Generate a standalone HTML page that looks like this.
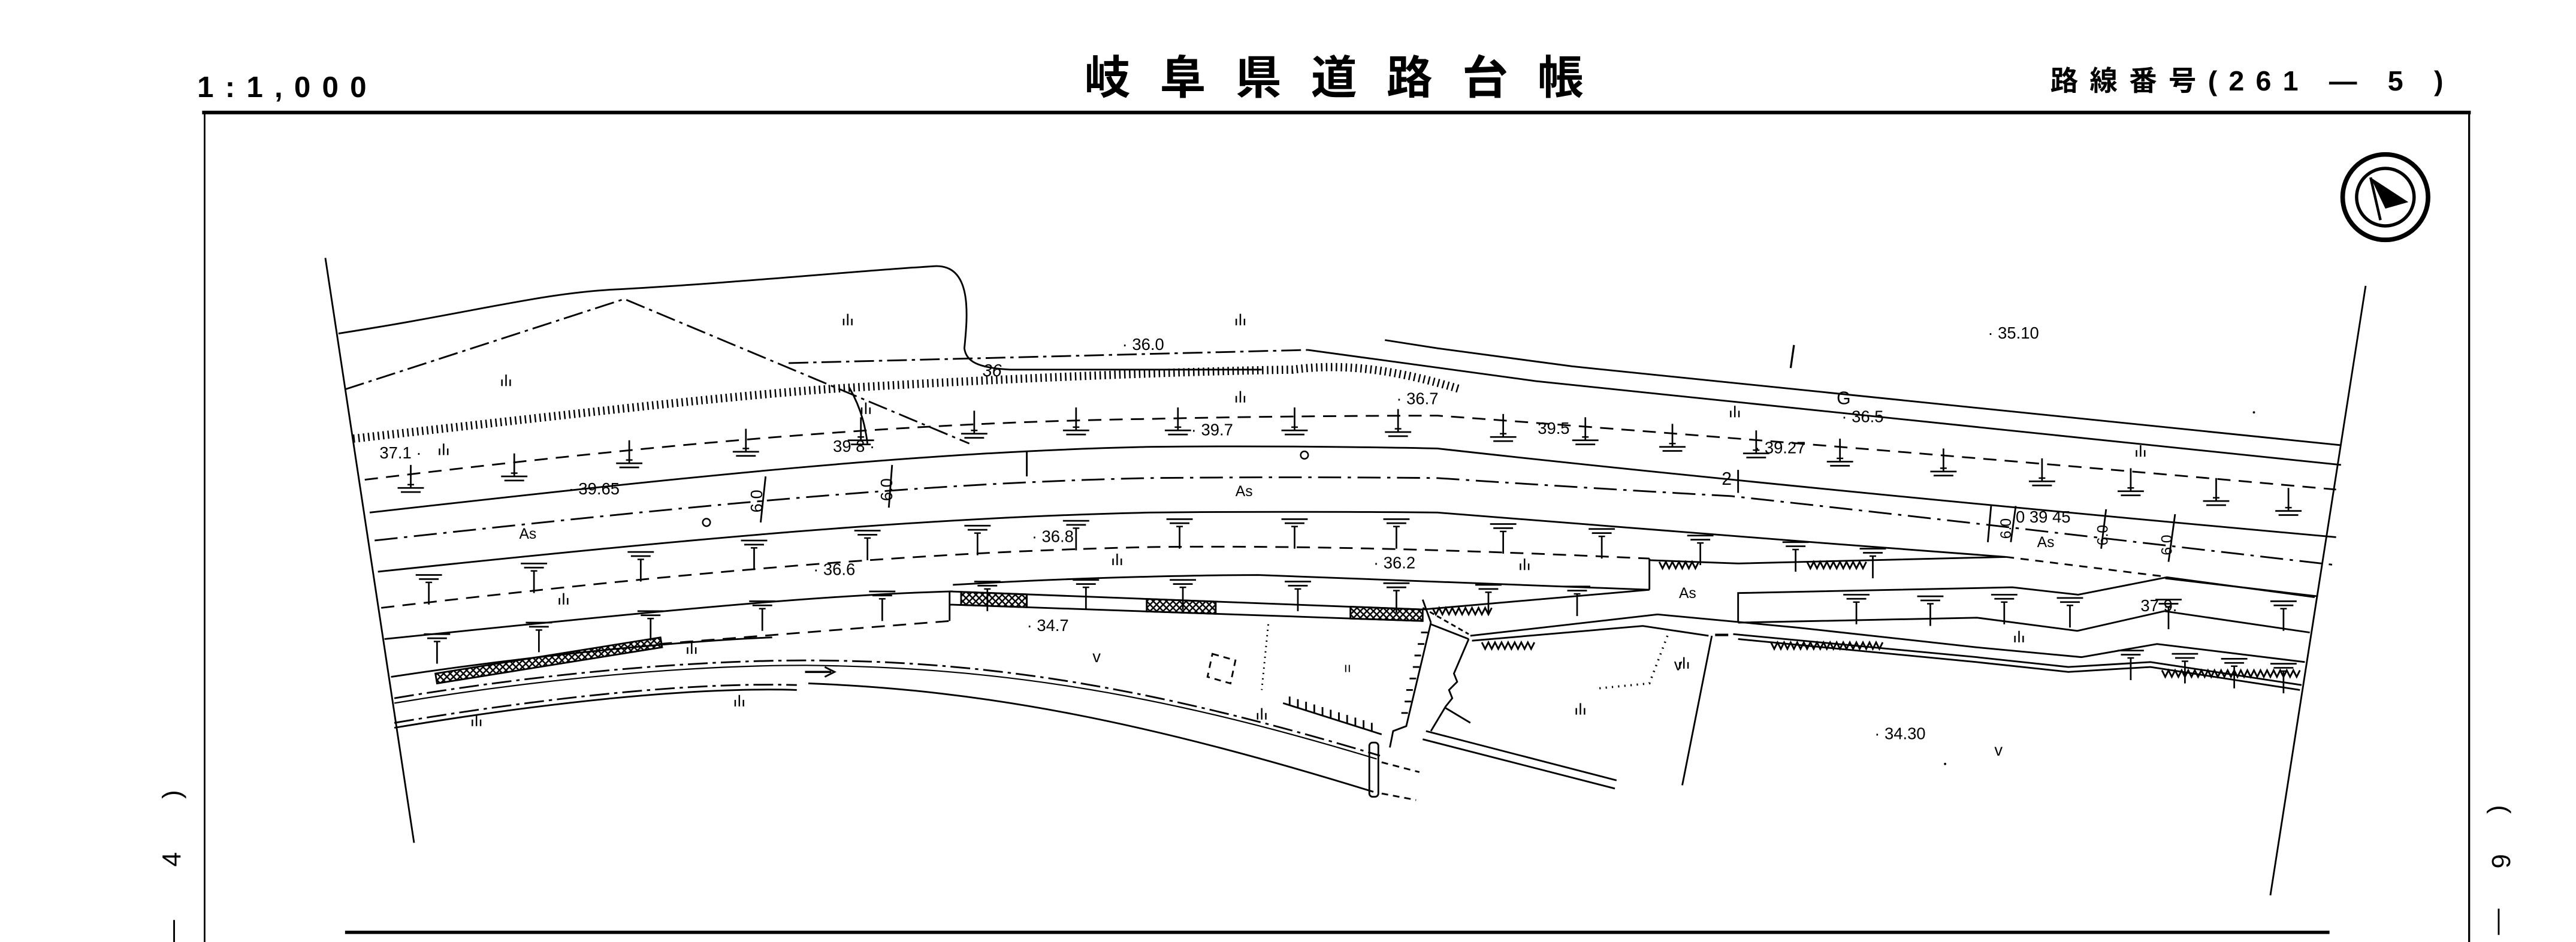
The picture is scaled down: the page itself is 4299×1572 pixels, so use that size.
<!DOCTYPE html>
<html><head><meta charset="utf-8"><style>
html,body{margin:0;padding:0;background:#fff;}
svg{display:block;}
text{font-family:"Liberation Sans","Noto Sans CJK JP",sans-serif;fill:#000;}
</style></head><body>
<svg width="4299" height="1572" viewBox="0 0 1568 573.4" xmlns="http://www.w3.org/2000/svg">
<defs>
<g id="up"><line x1="0" y1="-14" x2="0" y2="0" stroke="#000" stroke-width="1"/><line x1="-2" y1="-2" x2="2" y2="-2" stroke="#000" stroke-width="0.9"/><line x1="-8" y1="0" x2="8" y2="0" stroke="#000" stroke-width="1"/><line x1="-6" y1="2.5" x2="6" y2="2.5" stroke="#000" stroke-width="1"/></g>
<g id="tt"><line x1="-8" y1="0" x2="8" y2="0" stroke="#000" stroke-width="1"/><line x1="-6" y1="2.5" x2="6" y2="2.5" stroke="#000" stroke-width="1"/><line x1="-2" y1="4.5" x2="2" y2="4.5" stroke="#000" stroke-width="0.9"/><line x1="0" y1="4.5" x2="0" y2="18" stroke="#000" stroke-width="1"/></g>
<g id="gr" stroke="#000" stroke-width="0.9"><line x1="-2.5" y1="-2" x2="-2.5" y2="2"/><line x1="0" y1="-5" x2="0" y2="2"/><line x1="2.5" y1="-2" x2="2.5" y2="2"/></g>
<pattern id="xh" width="4" height="4" patternUnits="userSpaceOnUse"><path d="M0,0 L4,4 M4,0 L0,4" stroke="#000" stroke-width="0.9"/></pattern>
</defs>

<!-- header -->
<text x="120" y="59" font-size="18" font-weight="bold" letter-spacing="7">1:1,000</text>
<text x="660" y="57" font-size="28" font-weight="bold" letter-spacing="18" font-family="'Noto Sans CJK JP',sans-serif">岐阜県道路台帳</text>
<text x="1248" y="55" font-size="17" font-weight="bold" letter-spacing="7" font-family="'Liberation Sans','Noto Sans CJK JP',sans-serif">路線番号(261 — 5 )</text>

<!-- frame -->
<line x1="123" y1="68.5" x2="1504" y2="68.5" stroke="#000" stroke-width="2.2"/>
<line x1="124.5" y1="68" x2="124.5" y2="573.4" stroke="#000" stroke-width="1"/>
<line x1="1503" y1="68" x2="1503" y2="573.4" stroke="#000" stroke-width="1.2"/>
<line x1="210" y1="567.5" x2="1418" y2="567.5" stroke="#000" stroke-width="2"/>

<!-- side labels -->
<text transform="translate(110,576) rotate(-90)" font-size="16" letter-spacing="14">— 4 )</text>
<text transform="translate(1517,490) rotate(90)" font-size="16" letter-spacing="10">( 6 —</text>

<!-- compass -->
<circle cx="1452" cy="120" r="26" fill="none" stroke="#000" stroke-width="2.8"/>
<circle cx="1452" cy="120" r="17.5" fill="none" stroke="#000" stroke-width="2"/>
<path d="M1443,108 L1466,123 L1452,127 Z" fill="#000"/>
<line x1="1443" y1="108" x2="1449" y2="134" stroke="#000" stroke-width="1.6"/>

<g fill="none" stroke="#000" stroke-width="1.05">
<!-- boundaries -->
<line x1="198" y1="157" x2="252" y2="513"/>
<line x1="1440" y1="174" x2="1382" y2="545"/>

<!-- upper outline -->
<path d="M206,203 C290,190 330,178 378,176 C450,172 520,165 569,162 C592,161 589,192 587,212 C588,220 595,224 615,225 L768,225"/>
<path d="M210,237 L380,182 L590,270" stroke-dasharray="12,3,2,3"/>
<path d="M480,221 L796,213" stroke-dasharray="12,3,2,3"/>
<path d="M796,213 L935,232 L1425,283"/>
<path d="M843,207 L875,212 L957,223 L1425,271"/>
<path d="M517,236 C525,250 527,262 528,270"/>
<!-- hatched bank -->
<path d="M215,267 C350,252 450,240 517,236 C620,230 720,226 787,225 C810,222 840,222 889,237" stroke-width="5" stroke-dasharray="0.9,2.1"/>
<path d="M1092,210 L1090,224" stroke-width="1.2"/>

<!-- road band -->
<path d="M222,292 C420,268 560,257 700,255 C780,253 875,253 875,253 C1000,262 1200,278 1422,298" stroke-dasharray="8,5"/>
<path d="M225,312 C420,290 560,275 700,272 C790,271 875,273 875,273 C1000,287 1200,307 1422,327"/>
<path d="M228,329 C420,308 560,294 700,291 C790,290 875,291 875,291 C950,296 1000,299 1054,302 C1200,318 1300,330 1422,344" stroke-dasharray="14,4,2,4"/>
<path d="M230,348 C420,328 560,315 700,312 C790,311 875,312 875,312 C950,318 1100,330 1221,339"/>
<path d="M1221,339 L1318,351" stroke-dasharray="5,4"/>
<path d="M1318,352 L1411,363"/>
<path d="M232,370 C420,348 560,336 700,333 C780,332 875,334 1004,340" stroke-dasharray="8,5"/>
<path d="M234,389 C400,372 500,362 580,360"/>
<path d="M580,356 C680,350 766,350 766,350 L1004,359"/>
<path d="M1004,340 L1004,359"/>
<path d="M1004,341 L1058,343 L1221,339"/>
<path d="M1010,342 l2,4 l2,-4 l2,4 l2,-4 l2,4 l2,-4 l2,4 l2,-4 l2,4 l2,-4 l2,4 l2,-4 M1100,342 l2,4 l2,-4 l2,4 l2,-4 l2,4 l2,-4 l2,4 l2,-4 l2,4 l2,-4 l2,4 l2,-4 l2,4 l2,-4 l2,4 l2,-4 l2,4 l2,-4"/>
<!-- lower left lines -->
<path d="M238,412 C330,398 420,390 470,388"/>
<path d="M401,392 L578,378" stroke-dasharray="8,5"/>
<path d="M265,410 L402,388 L403,394 L266,416 Z" fill="url(#xh)"/>
<!-- block 34.7 -->
<path d="M578,360 L866,371 L1004,359"/>
<path d="M578,360 L578,378 M578,368 L866,378"/>
<path d="M585,360.3 L625,361.8 L625,369.6 L585,368.2 Z" fill="url(#xh)"/>
<path d="M698,364.6 L740,366.2 L740,373.6 L698,372.2 Z" fill="url(#xh)"/>
<path d="M822,369.3 L866,371 L866,378 L822,376.5 Z" fill="url(#xh)"/>
<path d="M872,370 l2,4 l2,-4 l2,4 l2,-4 l2,4 l2,-4 l2,4 l2,-4 l2,4 l2,-4 l2,4 l2,-4 l2,4 l2,-4 l2,4 l2,-4 l2,4 l2,-4"/>

<!-- lower road curves -->
<path d="M240,425 C330,410 420,402 490,402 C600,402 700,418 840,460" stroke-dasharray="12,3,2,3"/>
<path d="M240,428 C330,413 420,405 490,405 C600,406 700,420 838,462" stroke-width="0.8"/>
<path d="M240,440 C330,425 420,415 485,417" stroke-dasharray="12,3,2,3"/>
<path d="M240,443 C330,428 420,418 485,420"/>
<path d="M492,416 C600,420 700,440 836,482"/>
<path d="M490,409 L506,409" stroke-width="1.3"/>
<path d="M502,406 L508,409 L502,412"/>
<!-- culvert & ticks -->
<rect x="833.5" y="452" width="5.5" height="33" rx="2"/>
<path d="M841,464 L864,470 M841,483 L862,487" stroke-dasharray="4,3"/>
<path d="M781,428 L841,447"/>
<path d="M785,429 l0,-5 M790,430.6 l0,-5 M795,432.2 l0,-5 M800,433.8 l0,-5 M805,435.4 l0,-5 M810,437 l0,-5 M815,438.6 l0,-5 M820,440.2 l0,-5 M825,441.8 l0,-5 M830,443.4 l0,-5 M835,445 l0,-5"/>
<path d="M871,379 L856,442 L848,445 L846,455"/>
<path d="M869,385 l-4,0 M867,392 l-4,0 M865,399 l-4,0 M864,406 l-4,0 M862,413 l-4,0 M860,420 l-4,0 M859,427 l-4,0 M857,434 l-4,0"/>
<path d="M866,365 L871,379 M871,380 L894,389" />
<path d="M866,370 L894,386" stroke-dasharray="3,2"/>
<path d="M894,389 L885,410 L887,415 L882,420 L884,425 L880,430 L871,445"/>
<path d="M880,431 L895,440"/>
<path d="M868,445 L984,475 M866,450 L983,480"/>
<!-- right lower -->
<path d="M895,387 L1009,374 L1094,382 L1203,394 L1267,400 L1313,392 L1403,403"/>
<path d="M896,390 L1000,381 L1040,387 M1055,386 L1203,400 L1259,406 L1309,403 L1401,417"/>
<path d="M1058,389 L1203,403 L1259,409 L1309,406 L1400,420"/>
<path d="M1044,386.5 L1052,386.5" stroke-width="1.5"/>
<path d="M902,391 l2,4 l2,-4 l2,4 l2,-4 l2,4 l2,-4 l2,4 l2,-4 l2,4 l2,-4 l2,4 l2,-4 l2,4 l2,-4 l2,4 l2,-4"/>
<path d="M1078,391 l2,4 l2,-4 l2,4 l2,-4 l2,4 l2,-4 l2,4 l2,-4 l2,4 l2,-4 l2,4 l2,-4 l2,4 l2,-4 l2,4 l2,-4 l2,4 l2,-4 l2,4 l2,-4 l2,4 l2,-4 l2,4 l2,-4 l2,4 l2,-4 l2,4 l2,-4 l2,4 l2,-4 l2,4 l2,-4 l2,4 l2,-4"/>
<path d="M1316,408 l2,4 l2,-4 l2,4 l2,-4 l2,4 l2,-4 l2,4 l2,-4 l2,4 l2,-4 l2,4 l2,-4 l2,4 l2,-4 l2,4 l2,-4 l2,4 l2,-4 l2,4 l2,-4 l2,4 l2,-4 l2,4 l2,-4 l2,4 l2,-4 l2,4 l2,-4 l2,4 l2,-4 l2,4 l2,-4 l2,4 l2,-4 l2,4 l2,-4 l2,4 l2,-4 l2,4 l2,-4 l2,4 l2,-4"/>
<!-- right block -->
<path d="M1058,379 L1058,361 L1225,357.5 L1265,362 L1319,351.4 L1409,363.5"/>
<path d="M1058,379 L1203.5,376 L1264.5,384 L1317.5,372 L1406,385"/>
<path d="M1042,387 L1024,478"/>
<path d="M1015,387 L1004,416 L973,419" stroke-dasharray="0.8,3" stroke-width="1.3"/>
<path d="M772,380 L768,420" stroke-dasharray="0.8,2.5"/>
<path d="M738,398 l14,4 l-3,14 l-14,-4 Z" stroke-dasharray="4,3"/>
<!-- small dimension sticks -->
<path d="M466,290 L463,318 M543,283 L541,309 M625,275 L625,290 M1212,308 L1210,330 M1227,308 L1224,330 M1282,310 L1279,334 M1324,313 L1320,342 M1058,286 L1058,300"/>
</g>

<!-- up marks -->
<g>
<use href="#up" x="250" y="297"/><use href="#up" x="313" y="290"/><use href="#up" x="383" y="282"/><use href="#up" x="454" y="275"/><use href="#up" x="524" y="268"/><use href="#up" x="593" y="264"/><use href="#up" x="655" y="262"/><use href="#up" x="717" y="262"/><use href="#up" x="788" y="262"/><use href="#up" x="851" y="263"/><use href="#up" x="915" y="266"/><use href="#up" x="965" y="268"/><use href="#up" x="1018" y="272"/><use href="#up" x="1069" y="276"/><use href="#up" x="1120" y="281"/><use href="#up" x="1183" y="287"/><use href="#up" x="1243" y="293"/><use href="#up" x="1297" y="299"/><use href="#up" x="1349" y="305"/><use href="#up" x="1393" y="311"/>
</g>
<g>
<use href="#tt" x="261" y="350"/><use href="#tt" x="325" y="343"/><use href="#tt" x="390" y="336"/><use href="#tt" x="459" y="329"/><use href="#tt" x="528" y="323"/><use href="#tt" x="595" y="320"/><use href="#tt" x="655" y="317"/><use href="#tt" x="718" y="316"/><use href="#tt" x="788" y="316"/><use href="#tt" x="850" y="316"/><use href="#tt" x="915" y="319"/><use href="#tt" x="975" y="322"/><use href="#tt" x="1035" y="326"/><use href="#tt" x="1093" y="330"/><use href="#tt" x="1140" y="334"/>
<use href="#tt" x="266" y="386"/><use href="#tt" x="328" y="379"/><use href="#tt" x="396" y="372"/><use href="#tt" x="464" y="366"/><use href="#tt" x="537" y="360"/>
<use href="#tt" x="601" y="354"/><use href="#tt" x="661" y="353"/><use href="#tt" x="720" y="353"/><use href="#tt" x="790" y="354"/><use href="#tt" x="850" y="355"/><use href="#tt" x="906" y="356"/><use href="#tt" x="960" y="357"/>
<use href="#tt" x="1130" y="362"/><use href="#tt" x="1175" y="363"/><use href="#tt" x="1220" y="362"/><use href="#tt" x="1260" y="364"/><use href="#tt" x="1320" y="365"/><use href="#tt" x="1390" y="366"/>
<use href="#tt" x="1297" y="396"/><use href="#tt" x="1330" y="398"/><use href="#tt" x="1360" y="401"/><use href="#tt" x="1390" y="404"/>
</g>
<!-- grass -->
<g>
<use href="#gr" x="516" y="196"/><use href="#gr" x="755" y="196"/><use href="#gr" x="308" y="233"/><use href="#gr" x="755" y="243"/><use href="#gr" x="527" y="250"/><use href="#gr" x="270" y="275"/><use href="#gr" x="1056" y="252"/><use href="#gr" x="1303" y="276"/><use href="#gr" x="680" y="342"/><use href="#gr" x="928" y="345"/><use href="#gr" x="343" y="366"/><use href="#gr" x="421" y="396"/><use href="#gr" x="450" y="428"/><use href="#gr" x="290" y="440"/><use href="#gr" x="768" y="436"/><use href="#gr" x="962" y="433"/><use href="#gr" x="1229" y="389"/><use href="#gr" x="1025" y="405"/>
</g>

<!-- labels -->
<g font-size="10">
<text x="683" y="213">· 36.0</text>
<text x="598" y="229" font-style="italic" font-size="10.5">36</text>
<text x="850" y="246">· 36.7</text>
<text x="1210" y="206">· 35.10</text>
<text x="1118" y="246" font-size="11">G</text>
<text x="1121" y="257">· 36.5</text>
<text x="231" y="279">37.1 ·</text>
<text x="507" y="275">39 8 ·</text>
<text x="725" y="265">· 39.7</text>
<text x="936" y="264">39.5</text>
<text x="1068" y="276">· 39.27</text>
<text x="346" y="301">· 39.65</text>
<text x="316" y="328" font-size="9">As</text>
<text x="752" y="302" font-size="9">As</text>
<text x="1048" y="295" font-size="11">2</text>
<text x="628" y="330">· 36.8</text>
<text x="495" y="350">· 36.6</text>
<text x="836" y="346">· 36.2</text>
<text x="1227" y="318">0 39 45</text>
<text x="1240" y="333" font-size="9">As</text>
<text x="1022" y="364" font-size="9">As</text>
<text x="1303" y="372">37 9.</text>
<text x="625" y="384">· 34.7</text>
<text x="665" y="403">v</text>
<text x="1141" y="450">· 34.30</text>
<text x="1214" y="460">v</text>
<text x="1019" y="408">v</text>
<text x="818" y="409" font-size="8">ıı</text>
<text transform="translate(464,312) rotate(-90)" font-size="10">6.0</text>
<text transform="translate(543,305) rotate(-90)" font-size="10">6.0</text>
<text transform="translate(1224,328) rotate(-90)" font-size="9">6.0</text>
<text transform="translate(1283,332) rotate(-90)" font-size="9">6.0</text>
<text transform="translate(1322,338) rotate(-90)" font-size="9">6.0</text>
</g>
<circle cx="1372" cy="251" r="0.7" fill="#000"/>
<circle cx="1184" cy="465" r="0.7" fill="#000"/>
<circle cx="794" cy="277" r="2.3" fill="none" stroke="#000" stroke-width="0.9"/>
<circle cx="430" cy="318" r="2.3" fill="none" stroke="#000" stroke-width="0.9"/>
</svg>
</body></html>
